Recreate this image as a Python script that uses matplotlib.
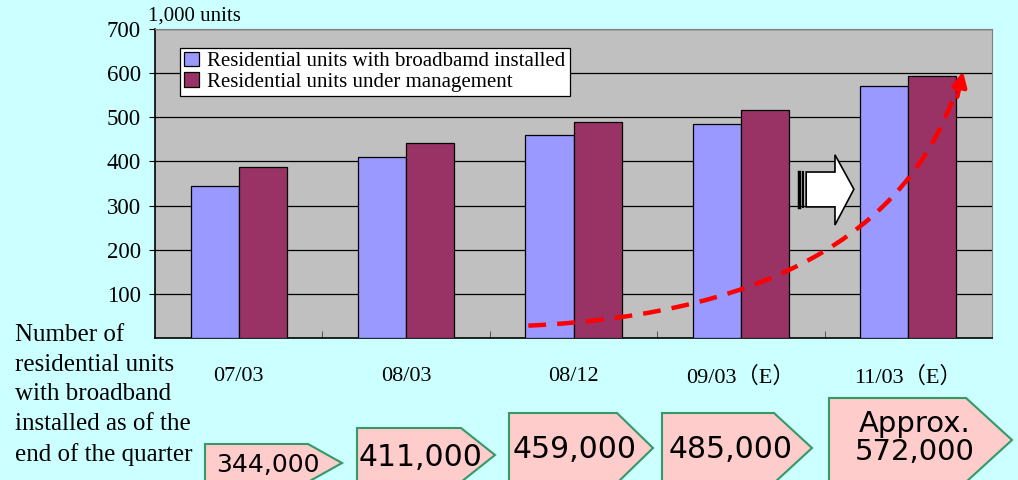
import matplotlib.pyplot as plt
import numpy as np
from matplotlib.patches import Polygon, PathPatch
from matplotlib.path import Path

categories = ["07/03", "08/03", "08/12", "09/03（E）", "11/03（E）"]
broadband = [344, 411, 459, 485, 572]
managed = [387, 442, 490, 517, 594]
legend_labels = ["Residential units with broadbamd installed",
                 "Residential units under management"]
box_labels = ["344,000", "411,000", "459,000", "485,000", "Approx.\n572,000"]
side_note = "Number of\nresidential units\nwith broadband\ninstalled as of the\nend of the quarter"

BG = "#CCFFFF"
BLUE = "#9999FF"
MAROON = "#993366"
SERIF = ["Liberation Serif", "Noto Sans CJK JP"]

W, H = 1018, 480
fig = plt.figure(figsize=(W / 100, H / 100), dpi=100, facecolor=BG)
ax = fig.add_axes([155 / W, 1 - 338 / H, (992 - 155) / W, (338 - 29) / H])
ax.set_facecolor("#C0C0C0")

x = np.arange(len(categories))
bw = 0.287
ax.bar(x - bw / 2, broadband, bw, color=BLUE, edgecolor="black", linewidth=0.9,
       label=legend_labels[0], zorder=3)
ax.bar(x + bw / 2, managed, bw, color=MAROON, edgecolor="black", linewidth=0.9,
       label=legend_labels[1], zorder=3)

ax.set_xlim(-0.5, len(categories) - 0.5)
ax.set_ylim(0, 700)
ax.set_yticks(range(100, 800, 100))
ax.yaxis.grid(True, color="black", linewidth=0.9, zorder=1)
ax.set_axisbelow(True)

ax.set_xticks(x)
ax.set_xticklabels(categories, family=SERIF, fontsize=16)
ax.set_xticks(np.arange(0.5, len(categories) - 0.5), minor=True)
ax.tick_params(axis="x", which="major", length=0, pad=21)
ax.tick_params(axis="x", which="minor", direction="in", length=5, color="#404040")
ax.tick_params(axis="y", direction="out", length=4, pad=6)
for t in ax.get_yticklabels():
    t.set_family(SERIF)
    t.set_fontsize(16.5)

for s in ["left", "bottom"]:
    ax.spines[s].set_color("black")
    ax.spines[s].set_linewidth(1.2)
for s in ["top", "right"]:
    ax.spines[s].set_color("#808080")

leg = ax.legend(loc="upper left", bbox_to_anchor=(0.03, 0.94), prop={"family": SERIF, "size": 15},
                frameon=True, fancybox=False, framealpha=1, edgecolor="black",
                handlelength=0.7, handleheight=0.7, handletextpad=0.4,
                labelspacing=0.05, borderpad=0.2, borderaxespad=0)
leg.get_frame().set_linewidth(0.9)

fig.text(148 / W, 1 - 16 / H, "1,000 units", ha="left", va="center",
         family=SERIF, fontsize=15)

# red dashed growth curve (cubic bezier) with arrow head
curve = [(1.73, 28), (3.25, 55), (4.05, 260), (4.31, 590)]
path = Path(curve, [Path.MOVETO, Path.CURVE4, Path.CURVE4, Path.CURVE4])
ax.add_patch(PathPatch(path, fill=False, edgecolor="red", linewidth=3.2,
                       linestyle=(0, (4, 2.5)), zorder=5))
ax.annotate("", xy=(4.33, 610), xytext=(4.29, 540),
            arrowprops=dict(arrowstyle="-|>", color="red", lw=3, mutation_scale=22), zorder=6)

# white block arrow
arrow_pts = [(3.39, 376), (3.562, 376), (3.562, 415), (3.675, 337), (3.562, 256),
             (3.562, 297), (3.39, 297)]
ax.add_patch(Polygon(arrow_pts, closed=True, facecolor="white", edgecolor="black",
                     linewidth=1.2, zorder=6))
for sx, lw in [(3.35, 2.5), (3.368, 1.5)]:
    ax.plot([sx, sx], [297, 376], color="black", linewidth=lw, zorder=6)

# side note
fig.text(15 / W, 1 - 324 / H, side_note, ha="left", va="top", family=SERIF,
         fontsize=18, linespacing=1.45)

# pentagon labels (pixel geometry: left, top, shoulder, tip x, tip y)
boxes = [(205, 444, 308, 342, 463), (357, 428, 461, 495, 455),
         (509, 413, 617, 653, 448), (662, 413, 774, 812, 448),
         (829, 398, 966, 1012, 440)]
sizes = [18, 21.5, 21.5, 21.5, 21]
for (l, t, sh, tx, ty), lab, fs in zip(boxes, box_labels, sizes):
    bot = ty + (ty - t)
    pts = [(l, t), (sh, t), (tx, ty), (sh, bot), (l, bot)]
    pts = [(px / W, 1 - py / H) for px, py in pts]
    fig.add_artist(Polygon(pts, closed=True, transform=fig.transFigure,
                           facecolor="#FFCCCC", edgecolor="#339966", linewidth=1.5))
    cx = (l + tx) / 2 - 6
    cy = ty + 2 if "\n" not in lab else ty - 2
    fig.text(cx / W, 1 - cy / H, lab, ha="center", va="center", fontsize=fs,
             family="DejaVu Sans", linespacing=1.0)

fig.savefig("out.png", dpi=100, facecolor=BG)
